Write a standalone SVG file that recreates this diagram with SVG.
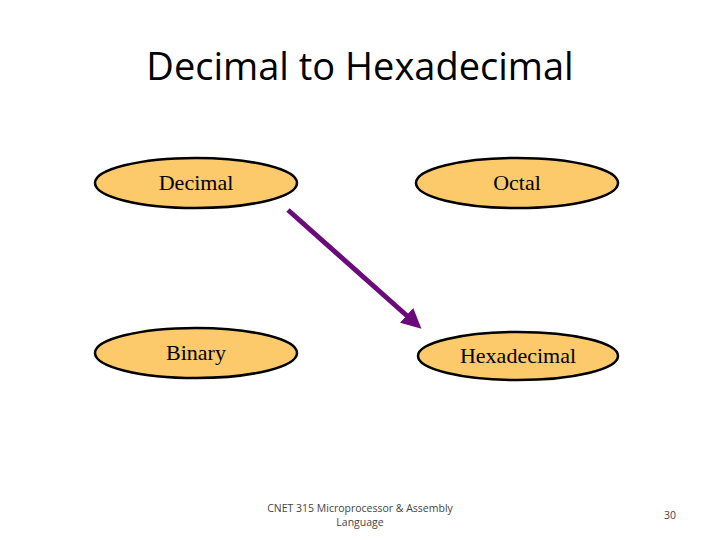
<svg xmlns="http://www.w3.org/2000/svg" width="720" height="540" viewBox="0 0 720 540">
<style>
.n ellipse{fill:#FCC96B;stroke:#000;stroke-width:2.5}
.n text{font-family:"Liberation Serif",serif;font-size:22px;fill:#000;text-anchor:middle}
.t{font-family:"Open Sans","Liberation Sans",sans-serif}
</style>
<defs><marker id="a" markerWidth="4" markerHeight="4" refX="2" refY="2" orient="auto"><path d="M0,0L4,2L0,4Z" fill="#6B0A7A"/></marker></defs>
<rect width="720" height="540" fill="#fff"/>
<text class="t" x="360" y="80" font-size="38" text-anchor="middle" fill="#000">Decimal to Hexadecimal</text>
<g id="decimal" class="n"><ellipse cx="196" cy="183" rx="101" ry="25"/><text x="196" y="190">Decimal</text></g>
<g id="octal" class="n"><ellipse cx="517" cy="183" rx="101" ry="25"/><text x="517" y="190">Octal</text></g>
<g id="binary" class="n"><ellipse cx="196" cy="353" rx="101" ry="25"/><text x="196" y="360">Binary</text></g>
<g id="hexadecimal" class="n"><ellipse cx="518" cy="356" rx="100" ry="24"/><text x="518" y="363">Hexadecimal</text></g>
<g id="connectors"><line x1="288" y1="210" x2="414" y2="322" stroke="#6B0A7A" stroke-width="5" marker-end="url(#a)"/></g>
<text class="t" x="360" y="512" font-size="10.5" text-anchor="middle" fill="#444">CNET 315 Microprocessor &amp; Assembly</text>
<text class="t" x="360" y="526" font-size="10.5" text-anchor="middle" fill="#444">Language</text>
<text class="t" x="670" y="519" font-size="10.5" text-anchor="middle" fill="#444">30</text>
</svg>
